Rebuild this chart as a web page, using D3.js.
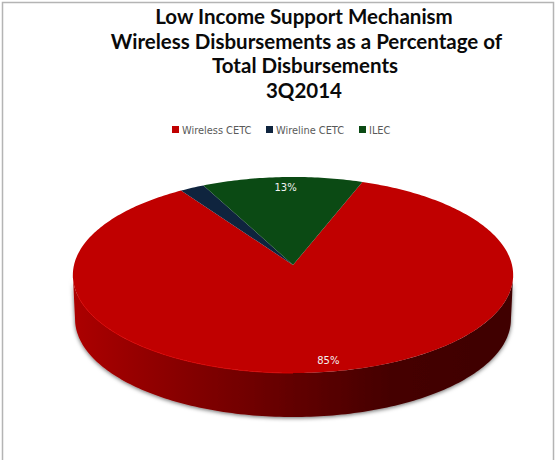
<!DOCTYPE html>
<html>
<head>
<meta charset="utf-8">
<script src="https://cdn.jsdelivr.net/npm/d3@7"></script>
<style>
  html, body { margin: 0; padding: 0; background: #fff; }
  svg { display: block; }
</style>
</head>
<body>
<script>
// Chart content
const titleLines = [
  "Low Income Support Mechanism",
  "Wireless Disbursements as a Percentage of",
  "Total Disbursements",
  "3Q2014"
];
const categories = ["Wireless CETC", "Wireline CETC", "ILEC"];
const shares = [85, 2, 13];
const sliceColors = ["#c00000", "#0f243e", "#0b4a14"];
const labelled = [true, false, true];

const width = 555, height = 460;
const svg = d3.select("body").append("svg").attr("width", width).attr("height", height);
const defs = svg.append("defs");

// Frame of the chart area
svg.append("path")
  .attr("d", "M2.5,460V2.5H553.5V460")
  .attr("fill", "none").attr("stroke", "#b4b4b4").attr("stroke-width", 1.5);

// Title
const titleCentres = [304, 306.5, 305, 304];
const titleBaselines = [24, 48.5, 73, 98];
svg.append("g").selectAll("text").data(titleLines).join("text")
  .attr("x", (d, i) => titleCentres[i])
  .attr("y", (d, i) => titleBaselines[i])
  .attr("text-anchor", "middle")
  .attr("font-family", "Lato, sans-serif")
  .attr("font-weight", 700)
  .attr("font-size", 20.5)
  .attr("fill", "#0a0a0a")
  .text(d => d);

// Legend
const legendSwatchX = [172, 266, 359];
const legend = svg.append("g").selectAll("g").data(categories).join("g")
  .attr("transform", (d, i) => `translate(${legendSwatchX[i]},126)`);
legend.append("rect").attr("width", 7).attr("height", 7)
  .attr("fill", (d, i) => sliceColors[i]);
legend.append("text").attr("x", 10).attr("y", 7.5)
  .attr("font-family", "'DejaVu Sans', sans-serif")
  .attr("font-size", 9.8)
  .attr("fill", "#595959")
  .text(d => d);

// Perspective projection of the unit disc onto the tilted pie top
const cx = 293, persp = -0.102, discScale = 219;
const yScale = v => (70 * v + 265) / (1 + persp * v);
const project = (theta, r = 1) => {
  const u = r * Math.sin(theta), v = -r * Math.cos(theta);
  return [cx + discScale * u / (1 + persp * v), yScale(v)];
};

const depth = 44, baseNarrowing = 0.99;
const pie = d3.pie().sort(null)
  .startAngle(20.3 * Math.PI / 180)
  .endAngle(380.3 * Math.PI / 180);
const arcs = pie(shares);
const line = d3.line();

// Side wall: the front half of the rim, extruded downward
const sideGrad = defs.append("linearGradient").attr("id", "side")
  .attr("gradientUnits", "userSpaceOnUse")
  .attr("x1", 73).attr("x2", 513).attr("y1", 0).attr("y2", 0);
[[0, "#ac0000"], [0.25, "#860000"], [0.5, "#620000"], [0.72, "#450000"], [1, "#3f0000"]]
  .forEach(([o, c]) => sideGrad.append("stop").attr("offset", o).attr("stop-color", c));

const shadow = defs.append("filter").attr("id", "soft")
  .attr("x", "-5%").attr("y", "-5%").attr("width", "110%").attr("height", "115%");
shadow.append("feDropShadow")
  .attr("dx", 0).attr("dy", 1).attr("stdDeviation", 2.2)
  .attr("flood-color", "#000").attr("flood-opacity", 0.6);

const edge = Math.acos(persp);
const frontAngles = d3.range(0, 161).map(i => edge + (2 * Math.PI - 2 * edge) * i / 160);
const frontRim = frontAngles.map(t => project(t));
const frontBase = frontRim.slice().reverse()
  .map(([x, y]) => [cx + (x - cx) * baseNarrowing, y + depth]);
svg.append("path")
  .attr("d", line(frontRim.concat(frontBase)) + "Z")
  .attr("fill", "url(#side)")
  .attr("filter", "url(#soft)");

// Top face: each slice is sampled along its angular span and projected
const slicePath = a => {
  const n = Math.max(4, Math.ceil((a.endAngle - a.startAngle) * 60));
  const pts = [project(0, 0)];
  for (let i = 0; i <= n; i++) {
    pts.push(project(a.startAngle + (a.endAngle - a.startAngle) * i / n));
  }
  return line(pts) + "Z";
};
svg.append("g").selectAll("path").data(arcs).join("path")
  .attr("d", slicePath)
  .attr("fill", (d, i) => sliceColors[i]);

// Thin highlight along the left front of the rim
const highlight = d3.range(0, 61).map(i => project(Math.PI + (i / 60) * 1.25));
svg.append("path").attr("d", line(highlight))
  .attr("fill", "none").attr("stroke", "#e00000").attr("stroke-width", 0.8);

// Value labels near the rim, with a small sideways offset per slice
const labelRadius = [0.9, 0, 0.87];
const labelShift = [10, 0, 2];
svg.append("g").selectAll("text").data(arcs).join("text")
  .filter((d, i) => labelled[i])
  .attr("transform", d => {
    const i = arcs.indexOf(d);
    const [x, y] = project((d.startAngle + d.endAngle) / 2, labelRadius[i]);
    return `translate(${x + labelShift[i]},${y})`;
  })
  .attr("dy", "0.35em")
  .attr("text-anchor", "middle")
  .attr("font-family", "'DejaVu Sans', sans-serif")
  .attr("font-size", 10)
  .attr("fill", "#f2f2f2")
  .text(d => `${d.data}%`);
</script>
</body>
</html>
